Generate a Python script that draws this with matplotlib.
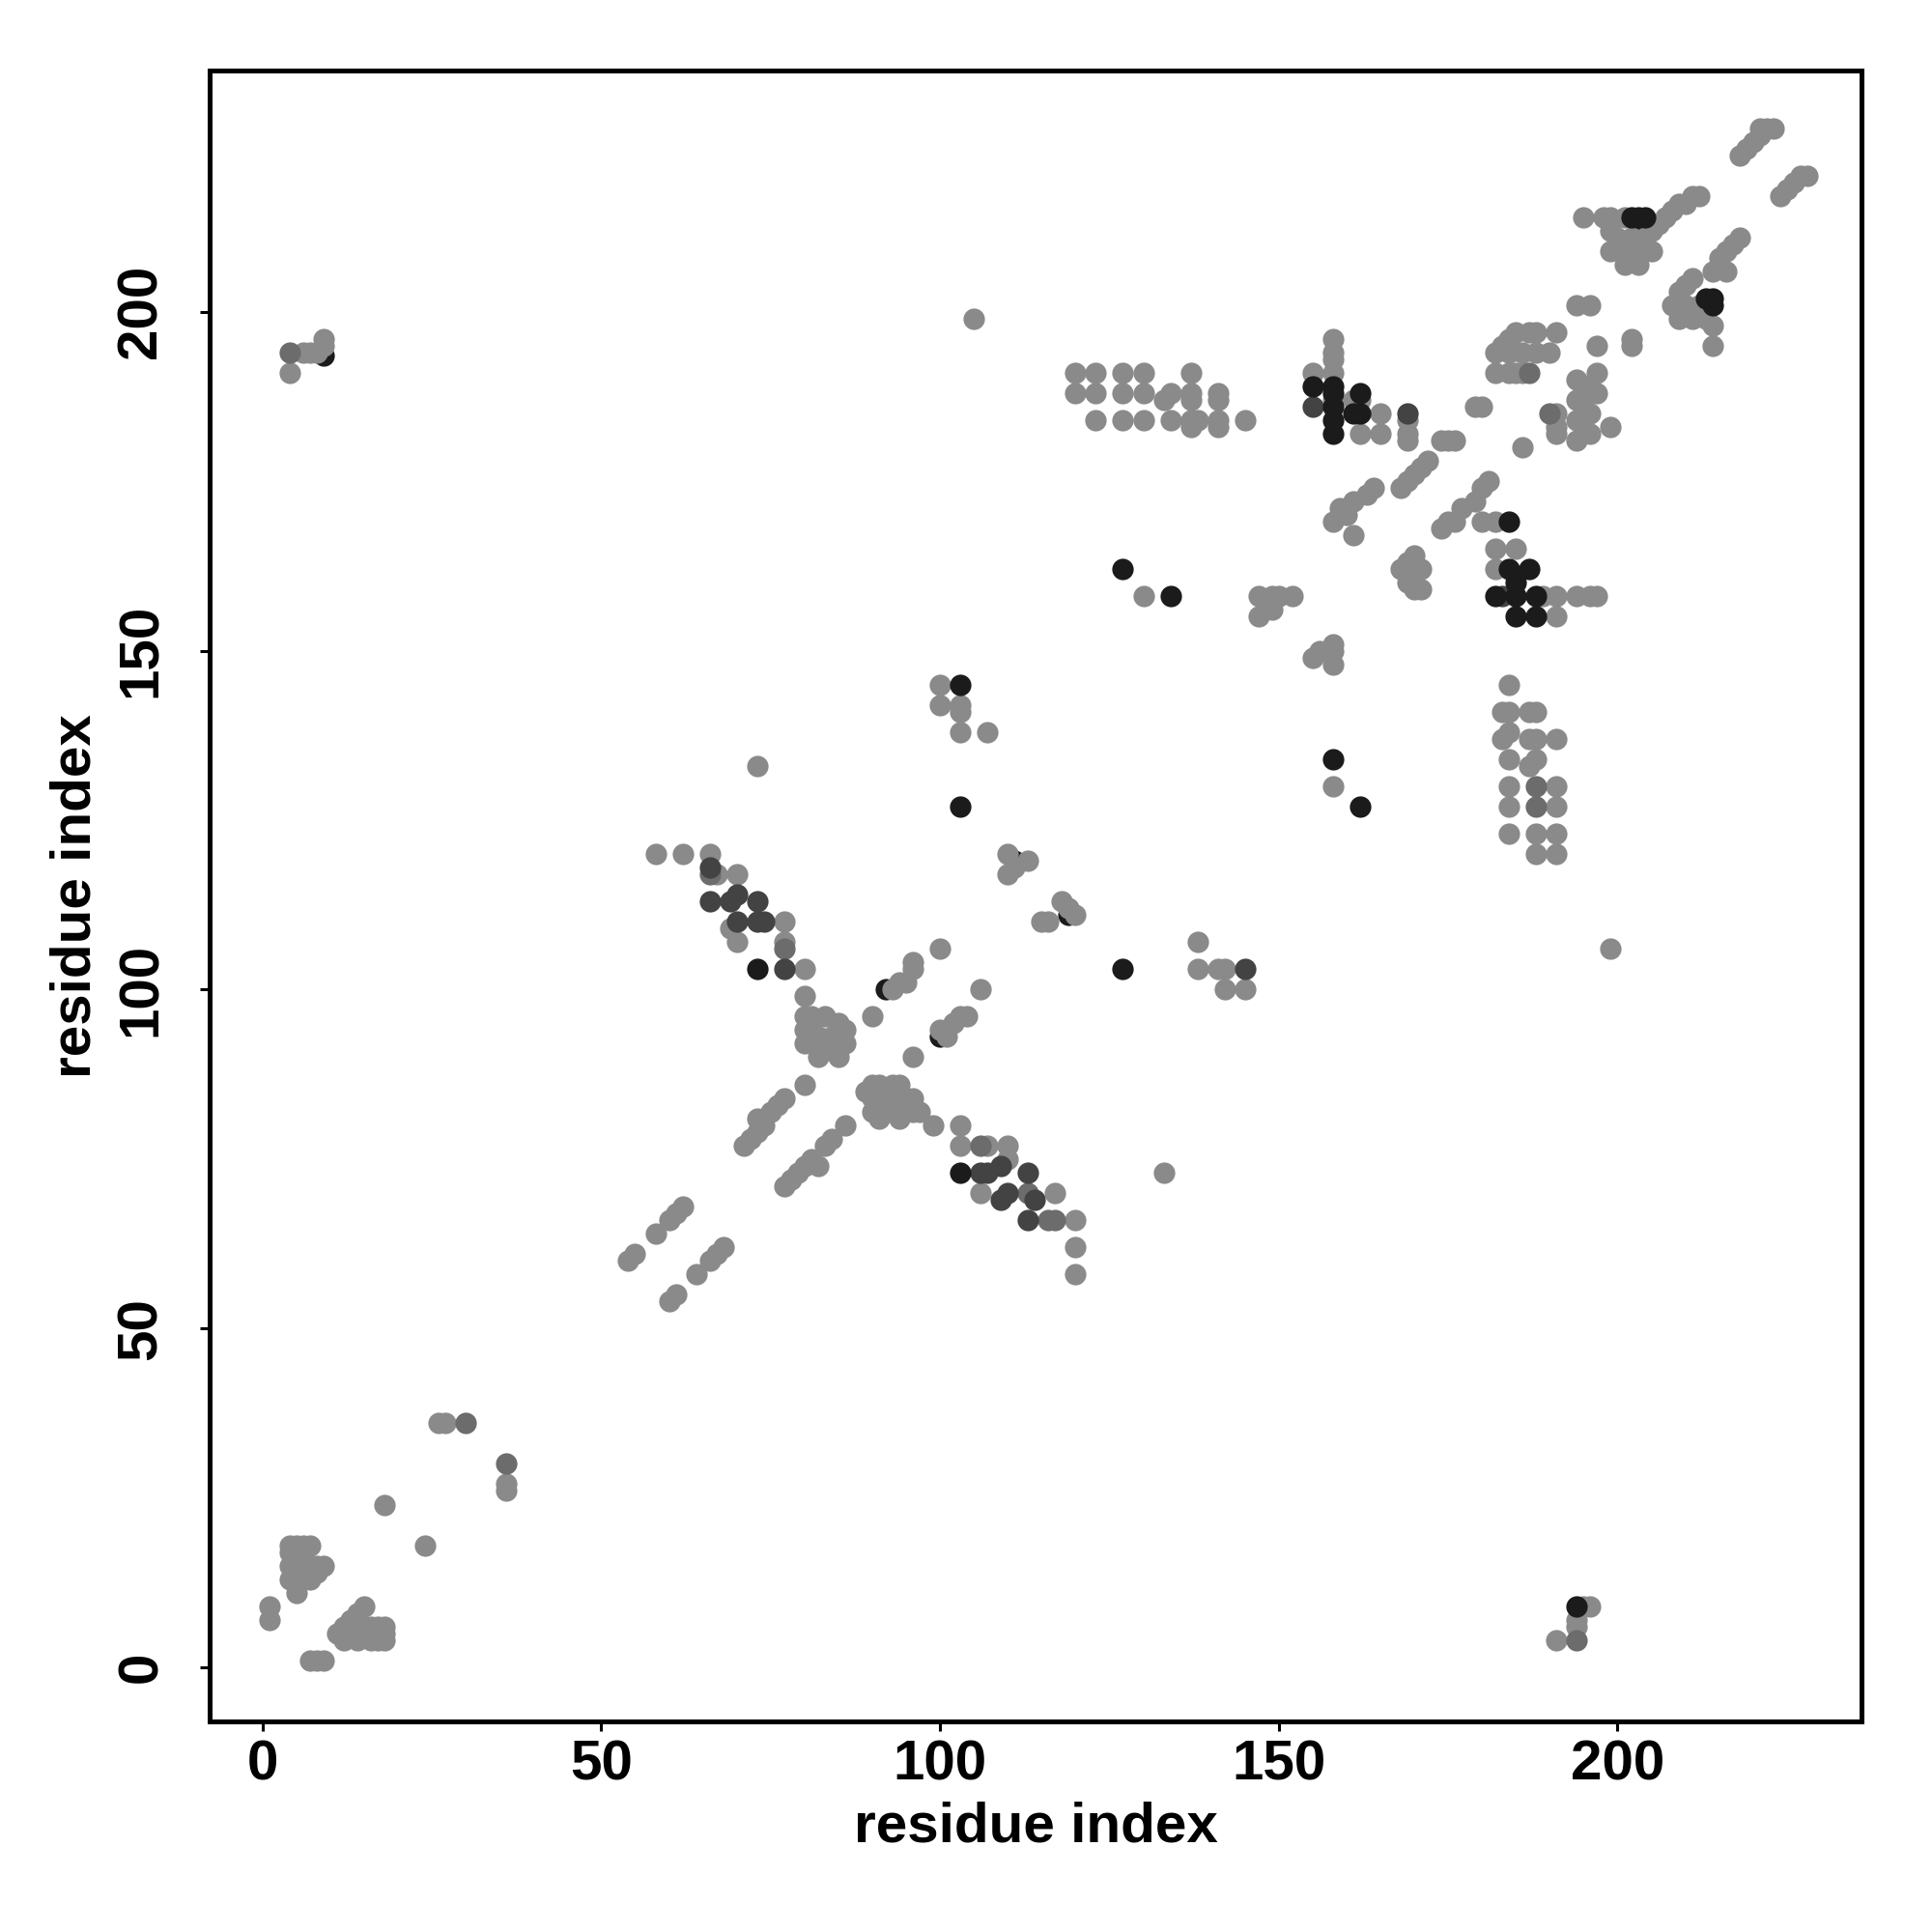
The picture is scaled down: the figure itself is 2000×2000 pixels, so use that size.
import matplotlib
matplotlib.use('Agg')
from matplotlib import pyplot as plt

# contact map, residue i vs residue j, split by grey level
grey_x = [1, 1, 4, 5, 6, 7, 4, 5, 4, 5, 6, 7, 8, 9, 4, 5, 6, 7, 8, 5, 7, 8, 9,
          11, 12, 12, 13, 14, 15, 14, 14, 15, 16, 16, 17, 18, 18, 17, 18, 18, 24, 26, 27, 36, 36,
          6, 7, 8, 9, 9, 4,
          54, 55, 58, 60, 61, 62, 60, 61, 64, 66, 67, 68,
          58, 62, 66, 67, 70, 77, 69, 70, 77, 80, 80,
          80, 81, 83, 85, 80, 81, 82, 84, 86, 80, 81, 83, 85, 86, 82, 85,
          80, 76, 77, 71, 72, 73, 74, 75, 73,
          77, 78, 79, 80, 81, 82, 83, 84, 86,
          93, 94, 90, 95, 96, 96, 96, 100, 101, 102, 103, 104, 100, 106,
          90, 91, 93, 94, 89, 90, 91, 93, 95, 96, 90, 91, 92, 94, 96, 97, 91, 94,
          99, 103, 103, 107, 110, 110, 106, 117, 120, 120, 120,
          100, 100, 103, 103, 103, 107, 73, 110, 113, 110, 111, 116, 115, 118, 120, 119,
          130, 133, 138, 138, 141, 142, 142, 145, 105,
          120, 123, 127, 130, 137, 120, 123, 127, 130, 133, 134, 137, 141,
          123, 127, 130, 134, 137, 138, 141, 145, 137, 141, 137, 141,
          155, 158, 158, 158, 158, 158, 162, 165, 165, 169, 169, 169, 161, 162,
          168, 169, 170, 171, 172, 174, 175, 176, 179, 174, 175, 176, 177, 179, 180, 181,
          180, 182, 182, 185, 182, 189, 191, 194, 196, 197, 191,
          168, 169, 170, 171, 169, 170, 171, 158, 159, 160, 161, 163, 164, 161,
          147, 149, 150, 152, 149, 147, 149, 155, 156, 158, 158, 158, 158,
          184, 183, 184, 187, 188, 183, 184, 187, 188, 191, 184, 188, 187, 184, 191,
          184, 191, 184, 188, 191, 188, 191, 199,
          191, 194, 194, 196, 195,
          180, 186, 182, 183, 184, 185, 187, 188, 191, 182, 184, 185, 186, 184, 186, 188, 190,
          196, 194, 191, 191, 191, 194, 195, 196, 194, 195, 196, 194, 195, 196, 194, 197, 197,
          199, 197, 202, 202,
          195, 198, 199, 201, 199, 200, 202, 204, 199, 201, 203, 205, 201, 203,
          205, 206, 207, 208, 209, 210, 211, 212,
          208, 209, 210, 211, 209, 211, 213, 214, 214, 212, 210,
          214, 215, 216, 217, 218, 216,
          218, 219, 220, 221, 221, 222, 223, 224, 225, 226, 227, 228]
grey_y = [7, 9, 18, 18, 18, 18, 17, 16, 15, 15, 15, 15, 15, 15, 13, 14, 13, 13, 14, 11, 1, 1, 1,
          5, 4, 6, 7, 8, 9, 4, 6, 5, 4, 6, 4, 4, 6, 6, 5, 24, 18, 36, 36, 27, 26,
          194, 194, 194, 196, 195, 191,
          60, 61, 64, 66, 67, 68, 54, 55, 58, 60, 61, 62,
          120, 120, 120, 117, 117, 110, 109, 107, 107, 103, 99,
          96, 96, 96, 95, 94, 94, 93, 93, 94, 92, 92, 92, 92, 92, 90, 90,
          86, 83, 84, 77, 78, 79, 80, 82, 81,
          71, 72, 73, 74, 75, 74, 77, 78, 80,
          100, 101, 96, 101, 104, 103, 90, 94, 93, 95, 96, 96, 106, 100,
          86, 86, 86, 86, 85, 84, 84, 84, 84, 84, 82, 82, 82, 82, 82, 82, 81, 81,
          80, 80, 77, 77, 77, 75, 70, 70, 66, 62, 58,
          145, 142, 142, 141, 138, 138, 133, 120, 119, 117, 118, 110, 110, 113, 111, 112,
          158, 73, 107, 103, 103, 100, 103, 100, 199,
          191, 191, 191, 191, 191, 188, 188, 188, 188, 187, 188, 188, 188,
          184, 184, 184, 184, 184, 184, 184, 184, 187, 187, 183, 183,
          191, 196, 194, 193, 191, 187, 182, 185, 182, 184, 182, 181, 187, 187,
          174, 175, 176, 177, 178, 181, 181, 181, 186, 168, 169, 169, 171, 172, 174, 175,
          169, 169, 165, 165, 162, 158, 158, 158, 158, 158, 155,
          162, 163, 164, 162, 160, 159, 159, 169, 171, 170, 172, 173, 174, 167,
          158, 158, 158, 158, 156, 155, 157, 149, 150, 151, 150, 148, 130,
          145, 141, 141, 141, 141, 137, 138, 137, 137, 137, 134, 134, 133, 130, 130,
          127, 127, 123, 123, 123, 120, 120, 106,
          4, 7, 6, 9, 9,
          186, 180, 194, 195, 196, 197, 197, 197, 197, 191, 191, 191, 191, 194, 194, 194, 194,
          201, 201, 185, 183, 182, 190, 189, 188, 187, 186, 185, 184, 183, 182, 181, 188, 191,
          183, 195, 196, 195,
          214, 214, 214, 214, 212, 211, 211, 211, 209, 209, 209, 209, 207, 207,
          212, 213, 214, 215, 216, 216, 217, 217,
          201, 203, 204, 205, 199, 199, 199, 198, 195, 201, 201,
          206, 208, 209, 210, 211, 206,
          223, 224, 225, 226, 227, 227, 227, 217, 218, 219, 220, 220]

mid_x = [30, 36, 4, 66, 77, 106, 117, 116, 113, 188, 188, 194, 187, 190]
mid_y = [36, 30, 194, 117, 106, 77, 66, 66, 70, 130, 127, 4, 191, 185]

dark_x = [66, 66, 69, 70, 73, 70, 73, 74, 77, 106, 107, 109, 113, 109, 110, 114, 113, 145, 155, 169, 183]
dark_y = [118, 113, 113, 114, 113, 110, 110, 110, 103, 73, 73, 74, 73, 69, 70, 69, 66, 103, 186, 185, 158]

# dark contacts that sit partly behind grey ones
under_x = [9, 92, 100, 111, 119, 203]
under_y = [193.5, 100, 93, 119, 111, 212]

black_x = [73, 103, 103, 103, 127, 134, 127,
           155, 158, 158, 158, 158, 158, 162, 161, 162,
           184, 184, 187, 185, 182, 185, 188, 185, 188, 158, 162, 194,
           202, 203, 204, 214, 214, 213]
black_y = [103, 73, 145, 127, 162, 158, 103,
           189, 189, 188, 186, 184, 182, 188, 185, 185,
           169, 162, 162, 160, 158, 158, 158, 155, 155, 134, 127, 9,
           214, 214, 214, 202, 201, 202]

plt.rcParams['font.family'] = ['Liberation Sans', 'DejaVu Sans']
plt.rcParams['font.weight'] = 'bold'

fig = plt.figure(figsize=(10, 10), dpi=200)
ax = fig.add_axes([0.1085, 0.109, 0.855, 0.8545])

ms = 64
ax.scatter(under_x, under_y, s=ms, c='#1b1b1b', linewidths=0, zorder=1)
ax.scatter(grey_x, grey_y, s=ms, c='#8a8a8a', linewidths=0, zorder=2)
ax.scatter(mid_x, mid_y, s=ms, c='#6c6c6c', linewidths=0, zorder=3)
ax.scatter(dark_x, dark_y, s=ms, c='#434343', linewidths=0, zorder=4)
ax.scatter(black_x, black_y, s=ms, c='#1b1b1b', linewidths=0, zorder=5)

ax.set_xlim(-7.8, 236)
ax.set_ylim(-8, 235.6)
ticks = [0, 50, 100, 150, 200]
ax.set_xticks(ticks)
ax.set_yticks(ticks)
for s in ax.spines.values():
    s.set_linewidth(1.8)
ax.tick_params(axis='both', length=3.5, width=1.1, labelsize=21)
ax.tick_params(axis='x', pad=3)
ax.tick_params(axis='y', pad=12, labelrotation=90)
for lab in ax.get_yticklabels():
    lab.set_va('center')

ax.set_xlabel('residue index', fontsize=21, fontweight='bold', va='center')
ax.xaxis.set_label_coords(0.5, -0.064)
ax.set_ylabel('residue index', fontsize=21, fontweight='bold', va='center', ha='center')
ax.yaxis.set_label_coords(-0.081, 0.5)

fig.savefig('out.png', dpi=200, facecolor='white')
